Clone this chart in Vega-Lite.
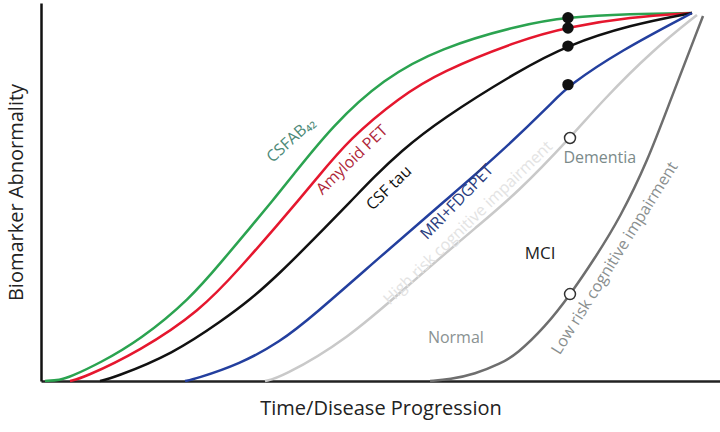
{
  "$schema": "https://vega.github.io/schema/vega-lite/v6.json",
  "width": 679,
  "height": 378,
  "autosize": {"type": "none"},
  "padding": {"left": 41, "top": 3, "right": 0, "bottom": 51},
  "background": "white",
  "config": {"view": {"stroke": null}, "font": "Open Sans"},
  "datasets": {
    "curves": [
      {"series": "CSFAB42", "x": 0.59, "y": 0},
      {"series": "CSFAB42", "x": 2.8, "y": 0.26},
      {"series": "CSFAB42", "x": 4.27, "y": 1.06},
      {"series": "CSFAB42", "x": 8.69, "y": 4.76},
      {"series": "CSFAB42", "x": 14.58, "y": 10.85},
      {"series": "CSFAB42", "x": 21.94, "y": 21.69},
      {"series": "CSFAB42", "x": 26.8, "y": 32.01},
      {"series": "CSFAB42", "x": 30.78, "y": 40.48},
      {"series": "CSFAB42", "x": 34.17, "y": 47.88},
      {"series": "CSFAB42", "x": 36.67, "y": 53.44},
      {"series": "CSFAB42", "x": 43.0, "y": 67.72},
      {"series": "CSFAB42", "x": 50.37, "y": 79.89},
      {"series": "CSFAB42", "x": 58.76, "y": 88.1},
      {"series": "CSFAB42", "x": 70.54, "y": 94.18},
      {"series": "CSFAB42", "x": 77.61, "y": 96.3},
      {"series": "CSFAB42", "x": 86.75, "y": 97.09},
      {"series": "CSFAB42", "x": 95.88, "y": 97.35},
      {"series": "Amyloid PET", "x": 4.27, "y": 0},
      {"series": "Amyloid PET", "x": 6.19, "y": 0.79},
      {"series": "Amyloid PET", "x": 14.58, "y": 7.94},
      {"series": "Amyloid PET", "x": 23.42, "y": 18.52},
      {"series": "Amyloid PET", "x": 29.31, "y": 29.89},
      {"series": "Amyloid PET", "x": 35.2, "y": 42.06},
      {"series": "Amyloid PET", "x": 37.7, "y": 47.35},
      {"series": "Amyloid PET", "x": 40.06, "y": 52.38},
      {"series": "Amyloid PET", "x": 45.51, "y": 64.29},
      {"series": "Amyloid PET", "x": 52.87, "y": 75.13},
      {"series": "Amyloid PET", "x": 58.76, "y": 81.75},
      {"series": "Amyloid PET", "x": 70.54, "y": 90.21},
      {"series": "Amyloid PET", "x": 77.61, "y": 93.65},
      {"series": "Amyloid PET", "x": 86.75, "y": 96.3},
      {"series": "Amyloid PET", "x": 95.88, "y": 97.35},
      {"series": "CSF tau", "x": 8.69, "y": 0},
      {"series": "CSF tau", "x": 10.6, "y": 0.79},
      {"series": "CSF tau", "x": 19.44, "y": 7.14},
      {"series": "CSF tau", "x": 26.8, "y": 16.14},
      {"series": "CSF tau", "x": 30.78, "y": 21.43},
      {"series": "CSF tau", "x": 35.2, "y": 28.57},
      {"series": "CSF tau", "x": 40.06, "y": 37.3},
      {"series": "CSF tau", "x": 45.95, "y": 48.15},
      {"series": "CSF tau", "x": 48.9, "y": 53.7},
      {"series": "CSF tau", "x": 52.87, "y": 60.58},
      {"series": "CSF tau", "x": 58.76, "y": 69.05},
      {"series": "CSF tau", "x": 70.54, "y": 82.28},
      {"series": "CSF tau", "x": 77.61, "y": 88.89},
      {"series": "CSF tau", "x": 86.75, "y": 94.18},
      {"series": "CSF tau", "x": 95.88, "y": 97.35},
      {"series": "MRI+FDGPET", "x": 21.21, "y": 0},
      {"series": "MRI+FDGPET", "x": 22.68, "y": 0.53},
      {"series": "MRI+FDGPET", "x": 29.31, "y": 4.5},
      {"series": "MRI+FDGPET", "x": 35.2, "y": 10.32},
      {"series": "MRI+FDGPET", "x": 40.06, "y": 17.2},
      {"series": "MRI+FDGPET", "x": 49.93, "y": 32.8},
      {"series": "MRI+FDGPET", "x": 59.79, "y": 48.15},
      {"series": "MRI+FDGPET", "x": 67.16, "y": 59.52},
      {"series": "MRI+FDGPET", "x": 75.41, "y": 73.81},
      {"series": "MRI+FDGPET", "x": 77.61, "y": 78.04},
      {"series": "MRI+FDGPET", "x": 85.27, "y": 87.3},
      {"series": "MRI+FDGPET", "x": 95.88, "y": 97.35},
      {"series": "High risk", "x": 32.99, "y": 0},
      {"series": "High risk", "x": 35.2, "y": 0.79},
      {"series": "High risk", "x": 45.07, "y": 10.85},
      {"series": "High risk", "x": 54.79, "y": 26.46},
      {"series": "High risk", "x": 64.65, "y": 41.53},
      {"series": "High risk", "x": 70.1, "y": 49.74},
      {"series": "High risk", "x": 77.91, "y": 64.29},
      {"series": "High risk", "x": 82.77, "y": 74.34},
      {"series": "High risk", "x": 90.13, "y": 87.57},
      {"series": "High risk", "x": 96.61, "y": 96.83},
      {"series": "Low risk", "x": 57.29, "y": 0},
      {"series": "Low risk", "x": 60.24, "y": 0.4},
      {"series": "Low risk", "x": 63.92, "y": 1.85},
      {"series": "Low risk", "x": 67.6, "y": 4.5},
      {"series": "Low risk", "x": 70.1, "y": 7.14},
      {"series": "Low risk", "x": 74.23, "y": 14.29},
      {"series": "Low risk", "x": 77.91, "y": 22.75},
      {"series": "Low risk", "x": 81.59, "y": 32.54},
      {"series": "Low risk", "x": 85.27, "y": 43.12},
      {"series": "Low risk", "x": 89.4, "y": 58.47},
      {"series": "Low risk", "x": 92.49, "y": 73.28},
      {"series": "Low risk", "x": 97.5, "y": 96.56}
    ],
    "markers": [
      {"kind": "filled", "x": 77.61, "y": 96.1},
      {"kind": "filled", "x": 77.61, "y": 93.4},
      {"kind": "filled", "x": 77.61, "y": 88.6},
      {"kind": "filled", "x": 77.61, "y": 78.4},
      {"kind": "open", "x": 77.91, "y": 64.29},
      {"kind": "open", "x": 77.91, "y": 23.0}
    ],
    "labels": [
      {"label": "CSFAB₄₂", "x": 36.8, "y": 63.8},
      {"label": "Amyloid PET", "x": 45.8, "y": 58.5},
      {"label": "CSF tau", "x": 51.25, "y": 51.06},
      {"label": "MRI+FDGPET", "x": 61.27, "y": 47.35},
      {"label": "High risk cognitive impairment", "x": 62.89, "y": 41.8},
      {"label": "Dementia", "x": 82.3, "y": 59.0},
      {"label": "MCI", "x": 73.5, "y": 33.6},
      {"label": "Normal", "x": 61.1, "y": 11.4},
      {"label": "Low risk cognitive impairment", "x": 84.5, "y": 32.5}
    ]
  },
  "layer": [
    {
      "data": {"name": "curves"},
      "mark": {"type": "line", "interpolate": "basis", "strokeWidth": 2.5},
      "encoding": {
        "x": {
          "field": "x", "type": "quantitative",
          "scale": {"domain": [0, 100], "nice": false, "zero": false},
          "axis": {
            "title": "Time/Disease Progression", "titleFontSize": 20, "titleFontWeight": "normal",
            "titleColor": "#222", "titlePadding": 17, "labels": false, "ticks": false, "grid": false,
            "domainColor": "#222", "domainWidth": 2.5
          }
        },
        "y": {
          "field": "y", "type": "quantitative",
          "scale": {"domain": [0, 100], "nice": false, "zero": false},
          "axis": {
            "title": "Biomarker Abnormality", "titleFontSize": 20, "titleFontWeight": "normal",
            "titleColor": "#222", "titlePadding": 15, "labels": false, "ticks": false, "grid": false,
            "domainColor": "#111", "domainWidth": 2.5
          }
        },
        "color": {
          "field": "series", "type": "nominal", "legend": null,
          "scale": {
            "domain": ["CSFAB42", "Amyloid PET", "CSF tau", "MRI+FDGPET", "High risk", "Low risk"],
            "range": ["#2ba350", "#e5172e", "#111111", "#233f9e", "#c9c9c9", "#6e6e6e"]
          }
        },
        "detail": {"field": "series"}
      }
    },
    {
      "data": {"name": "markers"},
      "transform": [{"filter": "datum.kind == 'filled'"}],
      "mark": {"type": "point", "filled": true, "color": "#111", "size": 130, "opacity": 1},
      "encoding": {
        "x": {"field": "x", "type": "quantitative"},
        "y": {"field": "y", "type": "quantitative"}
      }
    },
    {
      "data": {"name": "markers"},
      "transform": [{"filter": "datum.kind == 'open'"}],
      "mark": {"type": "point", "filled": false, "fill": "white", "fillOpacity": 1, "stroke": "#333", "strokeWidth": 1.5, "size": 120, "opacity": 1},
      "encoding": {
        "x": {"field": "x", "type": "quantitative"},
        "y": {"field": "y", "type": "quantitative"}
      }
    },
    {
      "data": {"name": "labels"},
      "transform": [{"filter": "datum.label == 'CSFAB₄₂'"}],
      "mark": {"type": "text", "angle": -42, "fontSize": 16, "color": "#4d8a78", "align": "center", "baseline": "middle"},
      "encoding": {"x": {"field": "x", "type": "quantitative"}, "y": {"field": "y", "type": "quantitative"}, "text": {"field": "label"}}
    },
    {
      "data": {"name": "labels"},
      "transform": [{"filter": "datum.label == 'Amyloid PET'"}],
      "mark": {"type": "text", "angle": -44, "fontSize": 16, "color": "#b0283a", "align": "center", "baseline": "middle"},
      "encoding": {"x": {"field": "x", "type": "quantitative"}, "y": {"field": "y", "type": "quantitative"}, "text": {"field": "label"}}
    },
    {
      "data": {"name": "labels"},
      "transform": [{"filter": "datum.label == 'CSF tau'"}],
      "mark": {"type": "text", "angle": -44, "fontSize": 16, "color": "#111", "align": "center", "baseline": "middle"},
      "encoding": {"x": {"field": "x", "type": "quantitative"}, "y": {"field": "y", "type": "quantitative"}, "text": {"field": "label"}}
    },
    {
      "data": {"name": "labels"},
      "transform": [{"filter": "datum.label == 'MRI+FDGPET'"}],
      "mark": {"type": "text", "angle": -46, "fontSize": 16, "color": "#2b3d7e", "align": "center", "baseline": "middle"},
      "encoding": {"x": {"field": "x", "type": "quantitative"}, "y": {"field": "y", "type": "quantitative"}, "text": {"field": "label"}}
    },
    {
      "data": {"name": "labels"},
      "transform": [{"filter": "datum.label == 'High risk cognitive impairment'"}],
      "mark": {"type": "text", "angle": -44, "fontSize": 16, "color": "#e3e3e3", "align": "center", "baseline": "middle"},
      "encoding": {"x": {"field": "x", "type": "quantitative"}, "y": {"field": "y", "type": "quantitative"}, "text": {"field": "label"}}
    },
    {
      "data": {"name": "labels"},
      "transform": [{"filter": "datum.label == 'Dementia'"}],
      "mark": {"type": "text", "angle": 0, "fontSize": 16, "color": "#7b8a8a", "align": "center", "baseline": "middle"},
      "encoding": {"x": {"field": "x", "type": "quantitative"}, "y": {"field": "y", "type": "quantitative"}, "text": {"field": "label"}}
    },
    {
      "data": {"name": "labels"},
      "transform": [{"filter": "datum.label == 'MCI'"}],
      "mark": {"type": "text", "angle": 0, "fontSize": 17, "color": "#222", "align": "center", "baseline": "middle"},
      "encoding": {"x": {"field": "x", "type": "quantitative"}, "y": {"field": "y", "type": "quantitative"}, "text": {"field": "label"}}
    },
    {
      "data": {"name": "labels"},
      "transform": [{"filter": "datum.label == 'Normal'"}],
      "mark": {"type": "text", "angle": 0, "fontSize": 16, "color": "#8a9292", "align": "center", "baseline": "middle"},
      "encoding": {"x": {"field": "x", "type": "quantitative"}, "y": {"field": "y", "type": "quantitative"}, "text": {"field": "label"}}
    },
    {
      "data": {"name": "labels"},
      "transform": [{"filter": "datum.label == 'Low risk cognitive impairment'"}],
      "mark": {"type": "text", "angle": -58, "fontSize": 16, "color": "#8a8f8f", "align": "center", "baseline": "middle"},
      "encoding": {"x": {"field": "x", "type": "quantitative"}, "y": {"field": "y", "type": "quantitative"}, "text": {"field": "label"}}
    }
  ]
}
